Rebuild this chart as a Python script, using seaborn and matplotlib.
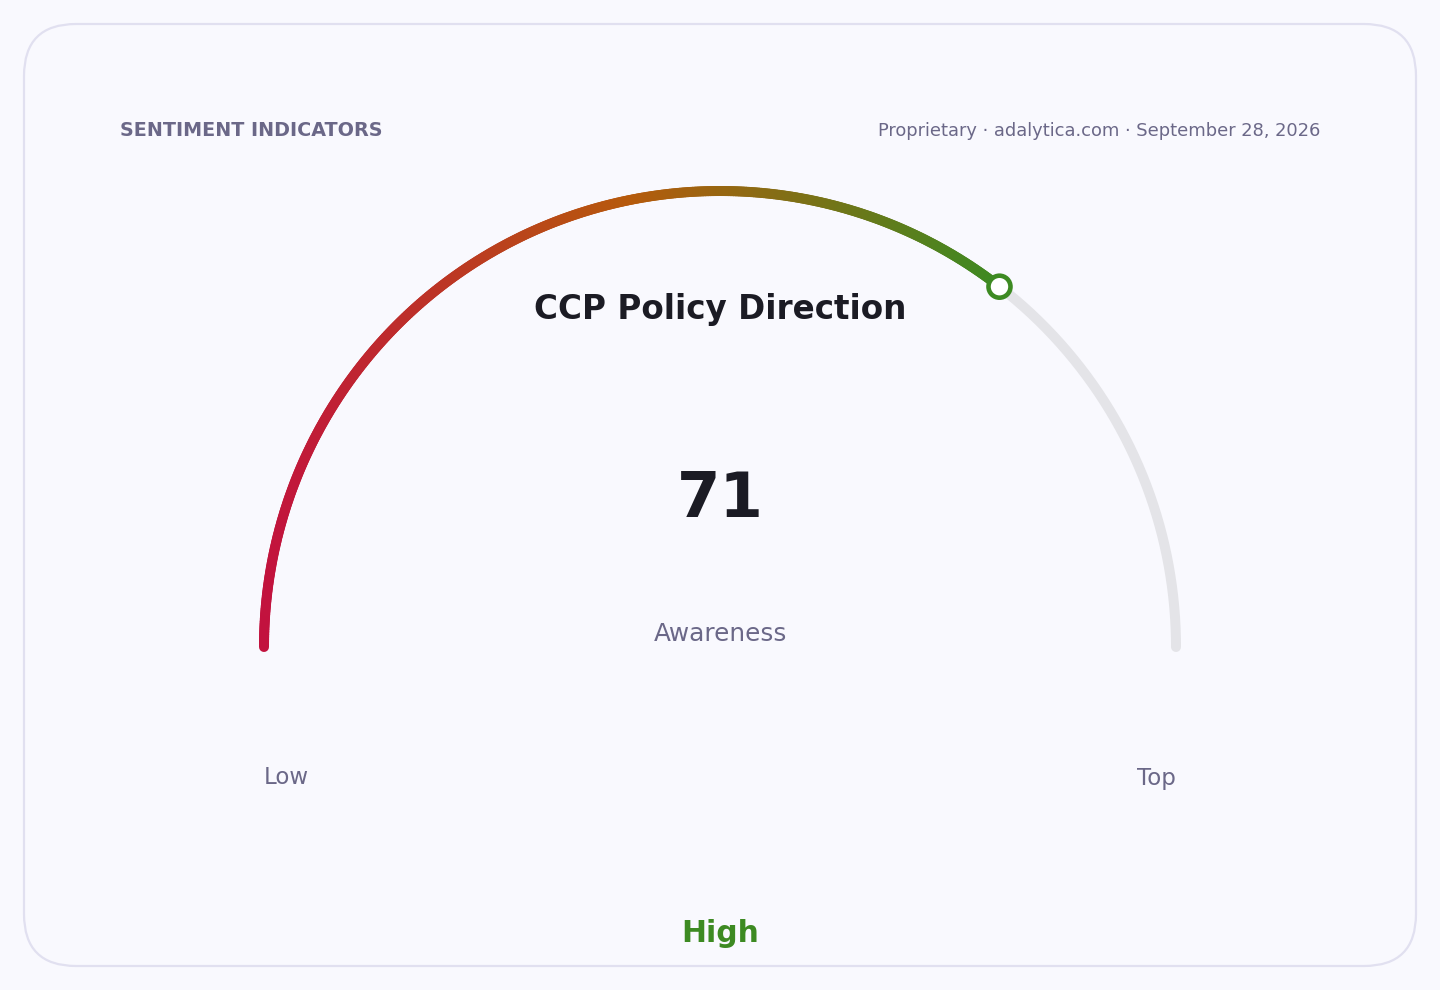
import numpy as np
import seaborn as sns
import matplotlib.pyplot as plt
from matplotlib.collections import LineCollection
from matplotlib.patches import FancyBboxPatch, Circle

# gauge data
GAUGE_TITLE = "CCP Policy Direction"
GAUGE_VALUE = 71
GAUGE_MIN = 0
GAUGE_MAX = 100
VALUE_LABEL = "Awareness"
RANGE_LABELS = ["Low", "Top"]
LEVEL_LABEL = "High"
HEADER_LEFT = "SENTIMENT INDICATORS"
HEADER_RIGHT = "Proprietary \u00b7 adalytica.com \u00b7 September 28, 2026"
GRADIENT_COLORS = ["#c2123e", "#b65a0c", "#3d8a22"]

BG = "#f9f9fe"
MUTED = "#6b6888"
DARK = "#1b1b24"
GREEN = "#3d8a22"
TRACK = "#e4e4e8"

W, H = 1440, 990
CX, CY, R = 720, 647, 456

sns.set_theme(style="white")
plt.rcParams['font.family'] = ['DejaVu Sans']

fig = plt.figure(figsize=(W / 100, H / 100), dpi=100)
fig.patch.set_facecolor(BG)
ax = fig.add_axes([0, 0, 1, 1])
ax.set_xlim(0, W)
ax.set_ylim(H, 0)
ax.axis('off')
ax.set_facecolor(BG)

# card
card = FancyBboxPatch((24, 24), W - 48, H - 48,
                      boxstyle="round,pad=0,rounding_size=52",
                      facecolor=BG, edgecolor="#e1e0f0", linewidth=1.6)
ax.add_patch(card)


def to_xy(v):
    ang = np.pi * (1 - (v - GAUGE_MIN) / (GAUGE_MAX - GAUGE_MIN))
    return CX + R * np.cos(ang), CY - R * np.sin(ang)


# grey track for the remaining part
rest = np.linspace(GAUGE_VALUE, GAUGE_MAX, 200)
tx, ty = to_xy(rest)
ax.plot(tx, ty, color=TRACK, lw=7.2, solid_capstyle='round', zorder=2)

# gradient filled arc, colour running left to right across the arc's extent
n = 400
vals = np.linspace(GAUGE_MIN, GAUGE_VALUE, n + 1)
px, py = to_xy(vals)
pts = np.column_stack([px, py])
segs = np.stack([pts[:-1], pts[1:]], axis=1)
pal = sns.blend_palette(GRADIENT_COLORS, n_colors=256)
mid_x = (pts[:-1, 0] + pts[1:, 0]) / 2
frac = (mid_x - px.min()) / (px.max() - px.min())
cols = [pal[int(round(f * 255))] for f in frac]
lc = LineCollection(segs, colors=cols, linewidths=7.2, capstyle='round', zorder=3)
ax.add_collection(lc)

# value marker
mx, my = to_xy(GAUGE_VALUE)
ax.add_patch(Circle((mx, my), 11, facecolor='white', edgecolor=GREEN,
                    linewidth=3.3, zorder=5))

# texts
ax.text(120, 130, HEADER_LEFT, fontsize=13.8, fontweight='bold', color=MUTED,
        ha='left', va='center')
ax.text(1320, 131, HEADER_RIGHT, fontsize=12.9, color=MUTED,
        ha='right', va='center')
ax.text(CX, 310, GAUGE_TITLE, fontsize=23.5, fontweight='bold', color=DARK,
        ha='center', va='center')
ax.text(CX, 500, str(GAUGE_VALUE), fontsize=45, fontweight='bold', color=DARK,
        ha='center', va='center')
ax.text(CX, 634, VALUE_LABEL, fontsize=17.8, color=MUTED, ha='center', va='center')
ax.text(CX - R, 778, RANGE_LABELS[0], fontsize=16.5, color=MUTED,
        ha='left', va='center')
ax.text(CX + R, 778, RANGE_LABELS[1], fontsize=16.5, color=MUTED,
        ha='right', va='center')
ax.text(CX, 934, LEVEL_LABEL, fontsize=21.5, fontweight='bold', color=GREEN,
        ha='center', va='center')

fig.savefig("out.png", dpi=100, facecolor=BG)
